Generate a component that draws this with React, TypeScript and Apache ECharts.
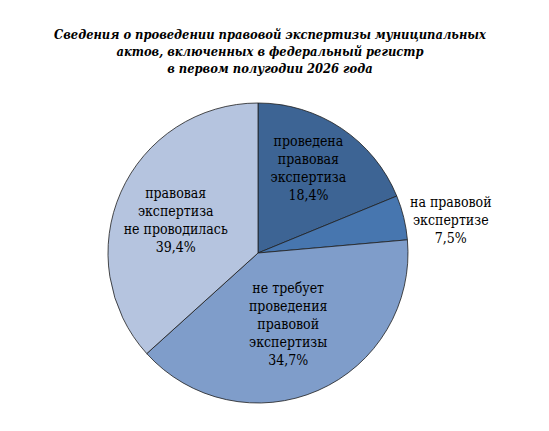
import React, { useEffect, useRef } from "react";
import * as echarts from "echarts";

const titleLines = [
  "Сведения о проведении правовой экспертизы муниципальных",
  "актов, включенных в федеральный регистр",
  "в первом полугодии 2026 года",
];
const categories = [
  "проведена\nправовая\nэкспертиза",
  "на правовой\nэкспертизе",
  "не требует\nпроведения\nправовой\nэкспертизы",
  "правовая\nэкспертиза\nне проводилась",
];
// slice shares as drawn in the picture
const shares = [18.8, 4.8, 39.7, 36.7];
// percentages as printed on the labels
const percentLabels = ["18,4%", "7,5%", "34,7%", "39,4%"];
const colors = ["#3d6494", "#4776af", "#7f9dca", "#b5c4df"];
const labelOffsets: [number, number][] = [
  [7, -20],
  [117, -15],
  [-1, 0],
  [-11, -1],
];

const SERIF = "DejaVu Serif Condensed";

export default function App() {
  const ref = useRef<HTMLDivElement>(null);
  useEffect(() => {
    document.body.style.margin = "0";
    const chart = echarts.init(ref.current!, undefined, { renderer: "svg" });
    chart.setOption({
      animation: false,
      backgroundColor: "#ffffff",
      title: {
        text: titleLines.join("\n"),
        left: 265,
        top: 21,
        textAlign: "center",
        textStyle: {
          fontFamily: SERIF,
          fontStyle: "italic",
          fontWeight: "bold",
          fontSize: 12.8,
          lineHeight: 17,
          color: "#000",
        },
      },
      series: [
        {
          type: "pie",
          center: [258, 253],
          radius: 150,
          startAngle: 90,
          clockwise: true,
          avoidLabelOverlap: false,
          labelLine: { show: false },
          itemStyle: { borderColor: "#1e1e1e", borderWidth: 0.8 },
          emphasis: { disabled: true },
          data: categories.map((name, i) => ({
            name,
            value: shares[i],
            itemStyle: { color: colors[i] },
            label: {
              show: true,
              position: "inside",
              offset: labelOffsets[i],
              formatter: () => `${name}\n${percentLabels[i]}`,
              fontFamily: SERIF,
              fontSize: 14,
              lineHeight: 18,
              color: "#000",
              align: "center",
            },
          })),
        },
      ],
    });
    return () => chart.dispose();
  }, []);
  return <div ref={ref} style={{ width: 549, height: 431 }} />;
}
